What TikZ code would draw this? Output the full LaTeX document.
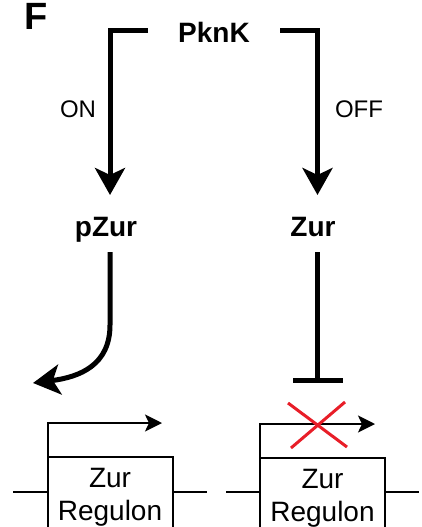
\documentclass[tikz,border=0pt]{standalone}
\usepackage{fontspec}
\setmainfont{Liberation Sans}
\usetikzlibrary{arrows.meta}
\definecolor{xred}{RGB}{232,30,40}
\tikzset{
  biglabel/.style={inner sep=0pt, font=\bfseries\fontsize{28}{28}\selectfont},
  statelabel/.style={inner sep=0pt, font=\fontsize{24}{24}\selectfont},
  heavy/.style={line width=5pt, line cap=butt, line join=miter},
  heavyarrow/.style={heavy, -{Stealth[length=27pt,width=30pt,inset=7pt]}},
  genebox/.style={draw, line width=2pt, minimum width=125pt, minimum height=80pt,
    inner sep=0pt, align=center, font=\fontsize{28}{33}\selectfont},
  dna/.style={line width=2pt},
  promoter/.style={line width=2pt, -{Stealth[length=17pt,width=17pt,inset=4pt]}},
  block/.style={line width=3pt, xred}
}
\begin{document}
\begin{tikzpicture}[x=1pt,y=-1pt]
  \clip (0,0) rectangle (421,527);
  \useasboundingbox (0,0) rectangle (421,527);

  % panel letter
  \node[inner sep=0pt, font=\bfseries\fontsize{38}{38}\selectfont] (panel) at (36,16) {F};

  % kinase and its two branches
  \node[biglabel] (pknk) at (214,32) {PknK};
  \coordinate (onstart) at (148,30.5);
  \coordinate (ontip) at (110,195);
  \coordinate (offstart) at (280,30.5);
  \coordinate (offtip) at (317.5,195);
  \draw[heavyarrow] (onstart) -| (ontip);
  \draw[heavyarrow] (offstart) -| (offtip);
  \node[statelabel] (on) at (78,109) {ON};
  \node[statelabel] (off) at (359,109) {OFF};

  % regulator forms
  \node[biglabel, anchor=base] (pzur) at (106,236) {pZur};
  \node[biglabel, anchor=base] (zur) at (313,236) {Zur};
  \coordinate (pzurfrom) at (110,252);
  \coordinate (pzurbend) at (110,325);
  \coordinate (pzurto) at (33,383);
  \draw[heavyarrow] (pzurfrom) -- (pzurbend)
    .. controls (110,365) and (80,377) .. (pzurto);
  \coordinate (zurfrom) at (317.5,252);
  \coordinate (zurto) at (317.5,383);
  \draw[heavy, -{Bar[width=50pt]}] (zurfrom) -- (zurto);

  % active operon
  \node[genebox] (geneL) at (110,497) {Zur\\Regulon};
  \coordinate (dnaL1) at (13,492);
  \coordinate (dnaL2) at (207,492);
  \draw[dna] (dnaL1) -- (dnaL1 -| geneL.west);
  \draw[dna] (geneL.east |- dnaL2) -- (dnaL2);
  \coordinate (tssL) at (162,423);
  \draw[promoter] ([xshift=1pt]geneL.north west) |- (tssL);

  % repressed operon
  \node[genebox] (geneR) at (322.5,498) {Zur\\Regulon};
  \coordinate (dnaR1) at (226,492);
  \coordinate (dnaR2) at (419,492);
  \draw[dna] (dnaR1) -- (dnaR1 -| geneR.west);
  \draw[dna] (geneR.east |- dnaR2) -- (dnaR2);
  \coordinate (tssR) at (375,424);
  \draw[promoter] ([xshift=1pt]geneR.north west) |- (tssR);

  % blocked transcription
  \draw[block] (288,403) -- (347,447);
  \draw[block] (345,402) -- (291,448);
\end{tikzpicture}
\end{document}
